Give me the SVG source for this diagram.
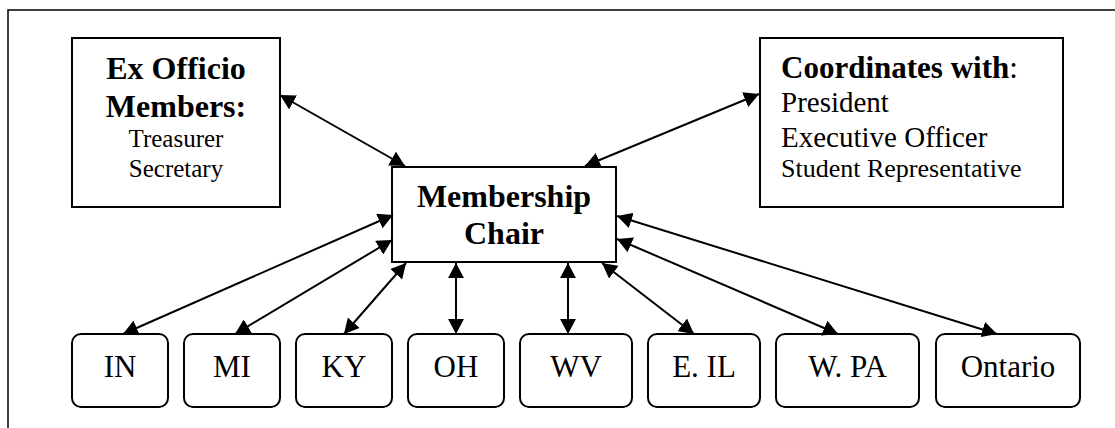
<svg xmlns="http://www.w3.org/2000/svg" width="1115" height="428" viewBox="0 0 1115 428">
<style>
  .box{fill:#fff;stroke:#000;stroke-width:2}
  .frame{fill:none;stroke:#000;stroke-width:1.5}
  .t{font-family:"Liberation Serif","Times New Roman",serif;fill:#000}
  .b{font-weight:bold;font-size:32px}
  .c{text-anchor:middle}
  .s{font-size:31px}
  .conn line{stroke:#000;stroke-width:2;marker-start:url(#ah);marker-end:url(#ah)}
</style>
<defs>
  <marker id="ah" markerUnits="userSpaceOnUse" markerWidth="15" markerHeight="16" viewBox="0 0 15 16" refX="15" refY="8" orient="auto-start-reverse">
    <path d="M0,0 L15,8 L0,16 z" fill="#000"/>
  </marker>
</defs>
<rect width="1115" height="428" fill="#fff"/>
<rect class="frame" x="8" y="10" width="1130" height="440"/>

<g id="exofficio">
  <rect class="box" x="72" y="38" width="208" height="169"/>
  <text class="t b c" x="176" y="79">Ex Officio</text>
  <text class="t b c" x="176" y="117">Members:</text>
  <text class="t c" x="176" y="147" font-size="25">Treasurer</text>
  <text class="t c" x="176" y="177" font-size="25">Secretary</text>
</g>

<g id="coordinates">
  <rect class="box" x="760" y="38" width="303" height="169"/>
  <text class="t" x="781" y="78" font-size="31"><tspan font-weight="bold">Coordinates with</tspan>:</text>
  <text class="t" x="781" y="112" font-size="29">President</text>
  <text class="t" x="781" y="147" font-size="29">Executive Officer</text>
  <text class="t" x="781" y="177" font-size="26">Student Representative</text>
</g>

<g id="chair">
  <rect class="box" x="392" y="167" width="224" height="95"/>
  <text class="t b c" x="504" y="207">Membership</text>
  <text class="t b c" x="504" y="244">Chair</text>
</g>

<g id="in"><rect class="box" x="72" y="334" width="96" height="73" rx="9"/><text class="t s c" x="120" y="377">IN</text></g>
<g id="mi"><rect class="box" x="184" y="334" width="96" height="73" rx="9"/><text class="t s c" x="232" y="377">MI</text></g>
<g id="ky"><rect class="box" x="296" y="334" width="96" height="73" rx="9"/><text class="t s c" x="344" y="377">KY</text></g>
<g id="oh"><rect class="box" x="408" y="334" width="96" height="73" rx="9"/><text class="t s c" x="456" y="377">OH</text></g>
<g id="wv"><rect class="box" x="520" y="334" width="112" height="73" rx="9"/><text class="t s c" x="576" y="377">WV</text></g>
<g id="eil"><rect class="box" x="648" y="334" width="112" height="73" rx="9"/><text class="t s c" x="704" y="377">E. IL</text></g>
<g id="wpa"><rect class="box" x="776" y="334" width="143" height="73" rx="9"/><text class="t s c" x="847.5" y="377">W. PA</text></g>
<g id="ontario"><rect class="box" x="936" y="334" width="144" height="73" rx="9"/><text class="t s c" x="1008" y="377">Ontario</text></g>

<g id="connectors" class="conn">
  <line x1="280" y1="95" x2="405" y2="166"/>
  <line x1="759" y1="94" x2="585" y2="166"/>
  <line x1="393" y1="215" x2="123" y2="334"/>
  <line x1="392" y1="240" x2="235" y2="334"/>
  <line x1="406" y1="263" x2="344" y2="334"/>
  <line x1="456" y1="263" x2="456" y2="334"/>
  <line x1="568" y1="263" x2="568" y2="334"/>
  <line x1="602" y1="263" x2="694" y2="334"/>
  <line x1="617" y1="239" x2="838" y2="334"/>
  <line x1="617" y1="216" x2="997" y2="334"/>
</g>
</svg>
